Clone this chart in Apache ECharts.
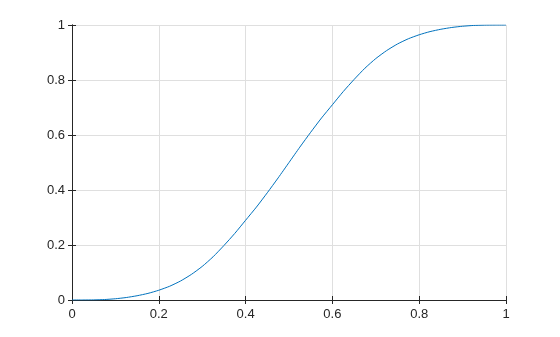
<!DOCTYPE html>
<html><head><meta charset="utf-8">
<script src="https://cdn.jsdelivr.net/npm/echarts@6/dist/echarts.min.js"></script>
<style>html,body{margin:0;padding:0;background:#fff}#c{width:560px;height:337px}</style>
</head><body><div id="c"></div>
<script>
const xValues = [0,0.025,0.05,0.075,0.1,0.125,0.15,0.175,0.2,0.225,0.25,0.275,0.3,0.325,0.35,0.375,0.4,0.425,0.45,0.475,0.5,
                 0.525,0.55,0.575,0.6,0.625,0.65,0.675,0.7,0.725,0.75,0.775,0.8,0.825,0.85,0.875,0.9,0.925,0.95,0.975,1];
const yValues = [0,0.00003,0.0004,0.0017,0.0045,0.009,0.0155,0.024,0.0355,0.05,0.069,0.093,0.122,0.157,0.198,0.242,0.29,0.338,0.39,0.444,0.5,
                 0.556,0.61,0.662,0.71,0.758,0.802,0.843,0.878,0.907,0.931,0.95,0.9645,0.976,0.9845,0.991,0.9955,0.9983,0.9996,0.99997,1];
const xTicks = [0,0.2,0.4,0.6,0.8,1];
const yTicks = [0,0.2,0.4,0.6,0.8,1];

const lblFont = {fontFamily:'Liberation Sans, Arial, sans-serif', fontSize:13, color:'#262626'};
const axLine = {show:true, lineStyle:{color:'#262626', width:1}};
const split = {show:true, lineStyle:{color:'#dfdfdf', width:1}};
const fmt = v => (Math.abs(v) < 1e-9 ? '0' : String(+v.toFixed(1)));

const chart = echarts.init(document.getElementById('c'));
chart.setOption({
  animation:false,
  grid:{left:72, right:54, top:25, bottom:37, containLabel:false},
  xAxis:[
    {type:'value', min:0, max:1, interval:0.2, position:'bottom', axisLine:axLine,
     axisTick:{show:true, inside:true, length:4, lineStyle:{color:'#262626'}},
     axisLabel:Object.assign({margin:8, formatter:fmt}, lblFont), splitLine:split},
    {type:'value', min:0, max:1, interval:0.2, position:'top', axisLine:axLine,
     axisTick:{show:true, inside:true, length:4, lineStyle:{color:'#262626'}},
     axisLabel:{show:false}, splitLine:{show:false}}
  ],
  yAxis:[
    {type:'value', min:0, max:1, interval:0.2, position:'left', axisLine:axLine,
     axisTick:{show:true, inside:true, length:4, lineStyle:{color:'#262626'}},
     axisLabel:Object.assign({margin:7, formatter:fmt}, lblFont), splitLine:split},
    {type:'value', min:0, max:1, interval:0.2, position:'right', axisLine:axLine,
     axisTick:{show:true, inside:true, length:4, lineStyle:{color:'#262626'}},
     axisLabel:{show:false}, splitLine:{show:false}}
  ],
  series:[{
    type:'line', xAxisIndex:0, yAxisIndex:0, showSymbol:false, smooth:0.2,
    lineStyle:{color:'#0072BD', width:1},
    data:xValues.map((x,i)=>[x,yValues[i]])
  }]
});
</script></body></html>
